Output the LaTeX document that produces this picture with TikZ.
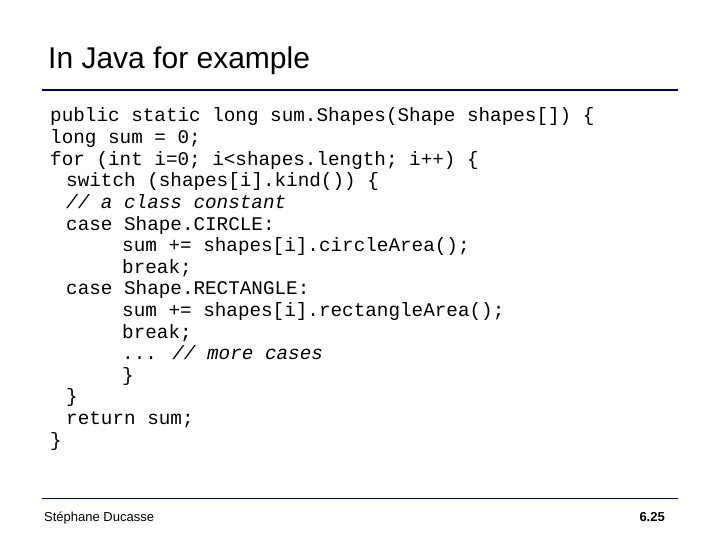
\documentclass[tikz,border=0pt]{standalone}
\usepackage{fontspec}
\setmainfont{Liberation Sans}
\newfontfamily\codefont{Liberation Mono}
\begin{document}
\begin{tikzpicture}[x=1pt,y=-1pt,
  code/.style={anchor=base west,inner sep=0pt,font=\codefont\fontsize{19.3}{20}\selectfont},
  cmt/.style={code,font=\codefont\itshape\fontsize{19.3}{20}\selectfont}]
\useasboundingbox (0,0) rectangle (720,540);
\node[anchor=base west,inner sep=0pt,font=\fontsize{30}{32}\selectfont] (t) at (48,69) {In Java for example};
\draw[line width=1.5pt,blue!40!black] (42,90) coordinate (l1) -- (678,90) coordinate (l2);
\node[code] (c1) at (50,122) {public static long sum.Shapes(Shape shapes[]) \{};
\node[code] (c2) at (50,143.6) {long sum = 0;};
\node[code] (c3) at (50,165.2) {for (int i=0; i<shapes.length; i++) \{};
\node[code] (c4) at (66,186.8) {switch (shapes[i].kind()) \{};
\node[cmt] (c5) at (66,208.4) {// a class constant};
\node[code] (c6) at (66,230) {case Shape.CIRCLE:};
\node[code] (c7) at (122,251.6) {sum += shapes[i].circleArea();};
\node[code] (c8) at (122,273.2) {break;};
\node[code] (c9) at (66,294.8) {case Shape.RECTANGLE:};
\node[code] (c10) at (122,316.4) {sum += shapes[i].rectangleArea();};
\node[code] (c11) at (122,338) {break;};
\node[code] (c12) at (122,359.6) {... \textit{// more cases}};
\node[code] (c13) at (122,381.2) {\}};
\node[code] (c14) at (66,402.8) {\}};
\node[code] (c15) at (66,424.4) {return sum;};
\node[code] (c16) at (50,446) {\}};
\draw[line width=1pt,blue!40!black] (42,498) coordinate (f1) -- (678,498) coordinate (f2);
\node[anchor=base west,inner sep=0pt,font=\fontsize{13}{15}\selectfont] (au) at (44,521) {Stéphane Ducasse};
\node[anchor=base east,inner sep=0pt,font=\bfseries\fontsize{13}{15}\selectfont] (pg) at (665,521) {6.25};
\end{tikzpicture}
\end{document}
